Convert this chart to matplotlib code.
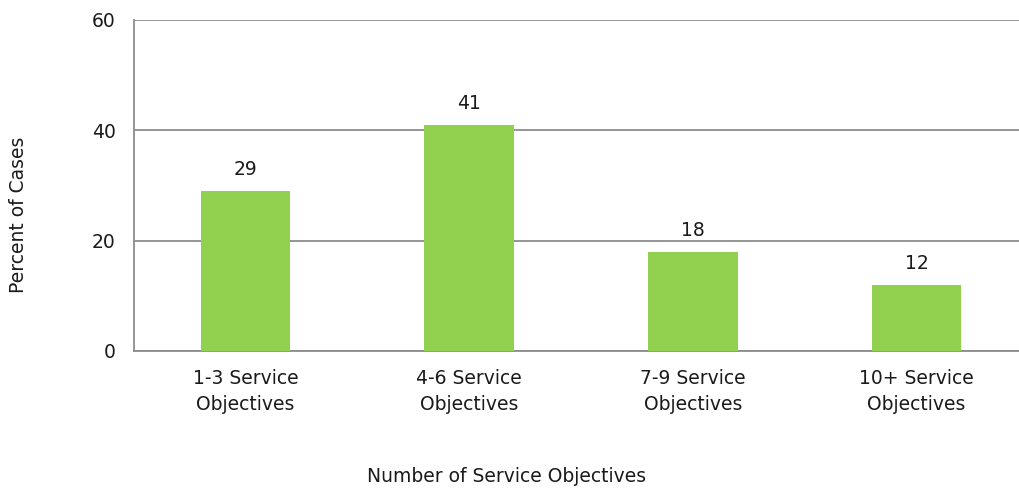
import matplotlib.pyplot as plt

# Share of cases by number of service objectives
categories = ['1-3 Service\nObjectives', '4-6 Service\nObjectives',
              '7-9 Service\nObjectives', '10+ Service\nObjectives']
percent = [29, 41, 18, 12]

plt.rcParams['font.family'] = ['DejaVu Sans']
fs = 13.5
txt = '#1a1a1a'

fig = plt.figure(figsize=(10.19, 4.9), dpi=100)
# plot area runs slightly past the right edge of the figure
ax = fig.add_axes([0.1312, 0.2837, 0.878, 0.6755])

ax.bar(range(len(categories)), percent, width=0.4, color='#92D050', zorder=3)

for i, v in enumerate(percent):
    ax.text(i, v + 2.2, str(v), ha='center', va='bottom', fontsize=fs, color=txt)

ax.set_xlim(-0.5, len(categories) - 0.5)
ax.set_ylim(0, 60)
ax.set_yticks([0, 20, 40, 60])
ax.set_xticks(range(len(categories)))
ax.set_xticklabels(categories, fontsize=fs, color=txt, linespacing=1.45)
ax.tick_params(axis='y', labelsize=fs, labelcolor=txt, length=0, pad=13)
ax.tick_params(axis='x', length=0, pad=13)

ax.grid(axis='y', color='#8c8c8c', linewidth=1.3, zorder=0)
for side in ['top', 'right']:
    ax.spines[side].set_visible(False)
for side in ['left', 'bottom']:
    ax.spines[side].set_color('#8c8c8c')
    ax.spines[side].set_linewidth(1.3)

fig.text(0.018, 0.561, 'Percent of Cases', rotation=90, ha='center', va='center',
         fontsize=fs, color=txt)
fig.text(0.497, 0.028, 'Number of Service Objectives', ha='center', va='center',
         fontsize=fs, color=txt)

fig.savefig('out.png', dpi=100)
